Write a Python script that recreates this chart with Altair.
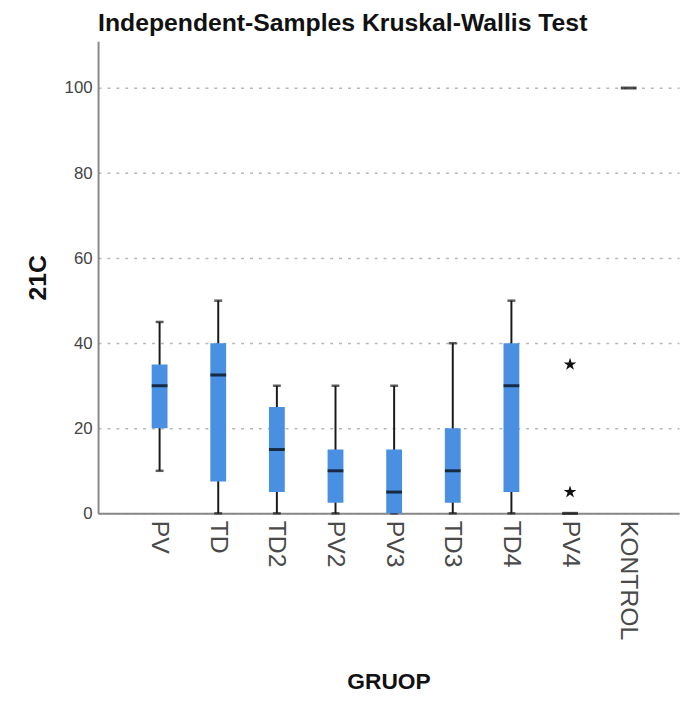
import altair as alt
import pandas as pd

groups = ["PV", "TD", "TD2", "PV2", "PV3", "TD3", "TD4", "PV4", "KONTROL"]
whisker_low = [10, 0, 0, 0, 0, 0, 0, None, None]
q1 = [20, 7.5, 5, 2.5, 0, 2.5, 5, None, None]
median = [30, 32.5, 15, 10, 5, 10, 30, 0, 100]
q3 = [35, 40, 25, 15, 15, 20, 40, None, None]
whisker_high = [45, 50, 30, 30, 30, 40, 50, None, None]
outlier_group = ["PV4", "PV4"]
outlier_value = [35, 5]

df = pd.DataFrame({"group": groups, "lo": whisker_low, "q1": q1, "med": median,
                   "q3": q3, "hi": whisker_high})
box_df = df.dropna()
out_df = pd.DataFrame({"group": outlier_group, "value": outlier_value})

W, H = 587, 477
xscale = alt.Scale(type="point", domain=groups, padding=0.954, align=0.55)
yscale = alt.Scale(domain=[0, 111], nice=False, zero=True)

xaxis = alt.Axis(title="GRUOP", labelAngle=90, labelAlign="left",
                 labelBaseline="middle", labelFontSize=25,
                 labelColor="#4a4a4a", labelPadding=7, ticks=False,
                 domainColor="#888888", domainWidth=2,
                 titleFontSize=23, titleFontWeight="bold",
                 titleColor="#111111", titlePadding=31,
                 labelFont="Liberation Sans", titleFont="Liberation Sans")
yaxis = alt.Axis(title="21C", values=[0, 20, 40, 60, 80, 100], ticks=False,
                 labelFontSize=17, labelColor="#444444", labelPadding=6,
                 domainColor="#888888", domainWidth=2,
                 grid=True, gridDash=[3, 6], gridColor="#b8b8b8", gridWidth=1.5,
                 titleFontSize=25, titleFontWeight="bold", titleColor="#111111",
                 titlePadding=14, labelFont="Liberation Sans",
                 titleFont="Liberation Sans")

def X():
    return alt.X("group:N", scale=xscale, sort=groups, axis=xaxis)

def Y(field):
    return alt.Y(field, scale=yscale, axis=yaxis)

whisker = alt.Chart(box_df).mark_rule(color="#1a1a1a", strokeWidth=2).encode(
    x=X(), y=Y("lo:Q"), y2="hi:Q")
cap_lo = alt.Chart(box_df).mark_tick(color="#1a1a1a", size=8, thickness=2.5).encode(
    x=X(), y=Y("lo:Q"))
cap_hi = alt.Chart(box_df).mark_tick(color="#1a1a1a", size=8, thickness=2.5).encode(
    x=X(), y=Y("hi:Q"))
box = alt.Chart(box_df).mark_bar(color="#4a90e2", size=16).encode(
    x=X(), y=Y("q1:Q"), y2="q3:Q")
med = alt.Chart(df).mark_tick(color="#000000", size=16, thickness=3).encode(
    x=X(), y=Y("med:Q"))
star = "M0,-1L0.224,-0.309L0.951,-0.309L0.363,0.118L0.588,0.809L0,0.382L-0.588,0.809L-0.363,0.118L-0.951,-0.309L-0.224,-0.309Z"
outl = alt.Chart(out_df).mark_point(shape=star, filled=True, color="#111111",
                                    size=180, opacity=1).encode(
    x=X(), y=Y("value:Q"))

chart = alt.layer(whisker, cap_lo, cap_hi, box, med, outl).properties(
    width=W, height=H,
    padding={"left": 17, "top": 0, "right": 2, "bottom": 0},
    title=alt.TitleParams("Independent-Samples Kruskal-Wallis Test", anchor="start",
                          fontSize=25, fontWeight="bold", color="#111111",
                          font="Liberation Sans", offset=5, frame="group"),
).configure_view(stroke=None)

chart.save("out.html", embed_options={"renderer": "svg", "actions": False})
